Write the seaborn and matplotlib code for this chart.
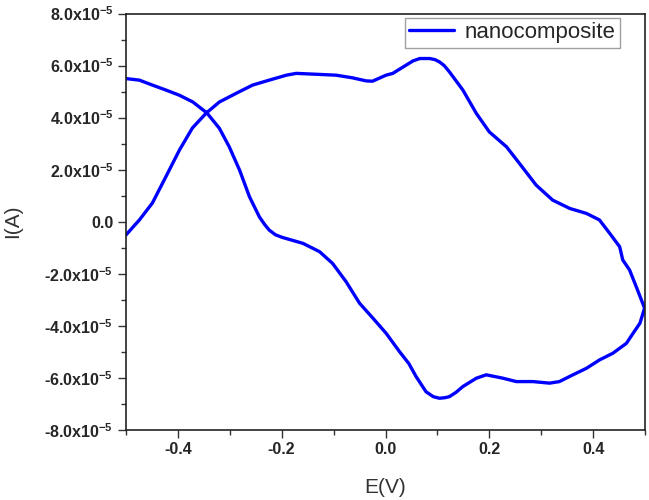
import numpy as np
import pandas as pd
import matplotlib
matplotlib.use("Agg")
import matplotlib.pyplot as plt
import seaborn as sns
from matplotlib.ticker import MultipleLocator, FuncFormatter

# forward scan (top-left -> down -> right end), potential in V, current in 1e-5 A
E_fwd = [-0.500, -0.474, -0.449, -0.423, -0.397, -0.371, -0.344, -0.320, -0.301, -0.281,
         -0.262, -0.243, -0.233, -0.224, -0.212, -0.199, -0.159, -0.127, -0.102, -0.076,
         -0.050, -0.024, 0.001, 0.027, 0.045, 0.059, 0.078, 0.092, 0.104, 0.114,
         0.123, 0.136, 0.149, 0.175, 0.194, 0.226, 0.252, 0.284, 0.316, 0.335,
         0.361, 0.387, 0.412, 0.438, 0.464, 0.477, 0.490, 0.499]
I_fwd = [5.50, 5.44, 5.25, 5.06, 4.86, 4.60, 4.18, 3.59, 2.88, 1.98,
         0.96, 0.19, -0.10, -0.32, -0.50, -0.60, -0.83, -1.15, -1.60, -2.30,
         -3.13, -3.71, -4.28, -4.99, -5.45, -5.95, -6.53, -6.72, -6.78, -6.76,
         -6.72, -6.55, -6.33, -6.01, -5.88, -6.01, -6.14, -6.14, -6.20, -6.14,
         -5.88, -5.63, -5.31, -5.05, -4.67, -4.28, -3.90, -3.32]

# reverse scan (right end -> back to the left)
E_rev = [0.499, 0.483, 0.470, 0.457, 0.451, 0.432, 0.412, 0.387, 0.355, 0.322,
         0.290, 0.258, 0.233, 0.200, 0.175, 0.149, 0.123, 0.113, 0.104, 0.095,
         0.085, 0.066, 0.053, 0.040, 0.014, 0.001, -0.025, -0.037, -0.064, -0.095,
         -0.127, -0.172, -0.191, -0.224, -0.256, -0.288, -0.320, -0.345, -0.372, -0.397,
         -0.423, -0.449, -0.474, -0.500]
I_rev = [-3.32, -2.50, -1.85, -1.47, -0.96, -0.45, 0.07, 0.32, 0.51, 0.83,
         1.41, 2.24, 2.88, 3.45, 4.16, 5.06, 5.76, 6.00, 6.14, 6.23,
         6.27, 6.27, 6.18, 6.02, 5.70, 5.63, 5.40, 5.41, 5.53, 5.63,
         5.66, 5.70, 5.63, 5.44, 5.25, 4.93, 4.60, 4.18, 3.60, 2.75,
         1.73, 0.72, 0.07, -0.51]

df = pd.DataFrame({
    "E": E_fwd + E_rev,
    "I": (np.array(I_fwd + I_rev)) * 1e-5,
})

sns.set_style("ticks")
plt.rcParams["font.family"] = ["Liberation Sans", "DejaVu Sans"]
plt.rcParams["mathtext.default"] = "regular"
plt.rcParams["axes.unicode_minus"] = False

fig = plt.figure(figsize=(6.49, 5.0), dpi=100)
ax = fig.add_axes([0.194, 0.14, 0.800, 0.833])

sns.lineplot(data=df, x="E", y="I", sort=False, estimator=None,
             color="#0000ff", linewidth=2.4, label="nanocomposite", ax=ax)
ax.lines[0].set_solid_joinstyle("round")

ax.set_xlim(-0.5, 0.5)
ax.set_ylim(-8e-5, 8e-5)
ax.xaxis.set_major_locator(MultipleLocator(0.2))
ax.xaxis.set_minor_locator(MultipleLocator(0.1))
ax.yaxis.set_major_locator(MultipleLocator(2e-5))
ax.yaxis.set_minor_locator(MultipleLocator(1e-5))


def yfmt(v, pos):
    m = v / 1e-5
    if abs(m) < 1e-9:
        return "0.0"
    return "%.1fx10$^{-5}$" % m


ax.yaxis.set_major_formatter(FuncFormatter(yfmt))
ax.xaxis.set_major_formatter(FuncFormatter(lambda v, p: "%.1f" % (0.0 if abs(v) < 1e-9 else v)))

ax.tick_params(which="major", direction="out", length=5.5, width=1, color="#333333",
               labelsize=11.5, top=False, right=False)
ax.tick_params(which="minor", direction="out", length=3.5, width=1, color="#333333",
               top=False, right=False)
for lab in ax.get_xticklabels() + ax.get_yticklabels():
    lab.set_fontweight("bold")

for s in ax.spines.values():
    s.set_visible(True)
    s.set_linewidth(1.2)
    s.set_color("#222222")

ax.set_xlabel("E(V)", fontsize=15, color="#333333")
ax.set_ylabel("I(A)", fontsize=15, color="#333333")
ax.xaxis.set_label_coords(0.5, -0.115)
ax.yaxis.set_label_coords(-0.200, 0.5)

leg = ax.legend(loc="upper right", bbox_to_anchor=(0.952, 0.99), fontsize=16,
                frameon=True, fancybox=False, handlelength=2.0, borderpad=0.2,
                borderaxespad=0.0, handletextpad=0.5)
leg.get_frame().set_edgecolor("#888888")
leg.get_frame().set_linewidth(1.0)

fig.savefig("out.png", dpi=100)
